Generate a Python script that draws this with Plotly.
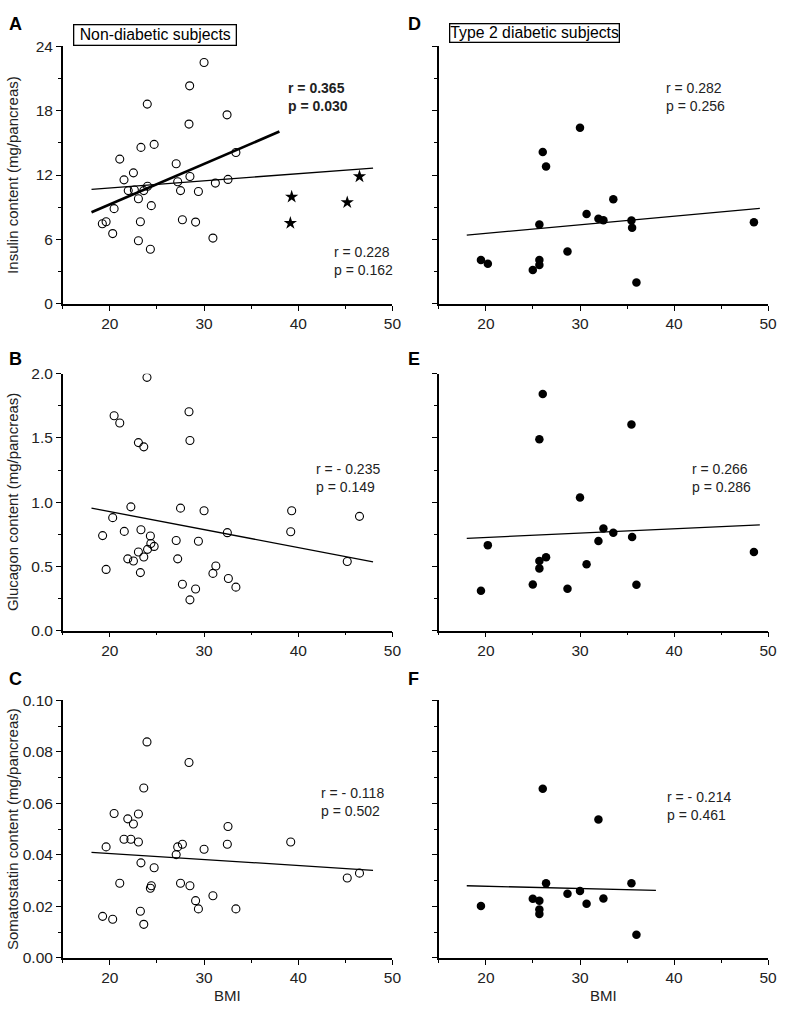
import plotly.graph_objects as go

FONT = "Liberation Sans, Arial, sans-serif"

# ---------- Non-diabetic subjects ----------
# Panel A: insulin (open circles) and obese stars
a_x = [30.0, 28.47, 23.97, 32.44, 28.4, 23.3, 24.7, 33.38, 21.05, 27.04, 22.5, 21.5, 28.5,
       32.54, 27.2, 31.2, 24.0, 21.95, 22.6, 23.6, 27.5, 29.4, 23.03, 24.4, 20.45, 19.2, 19.6,
       23.24, 27.7, 29.1, 20.3, 23.03, 30.94, 24.3]
a_y = [22.47, 20.3, 18.6, 17.6, 16.74, 14.57, 14.85, 14.1, 13.48, 13.05, 12.2, 11.55, 11.86,
       11.59, 11.37, 11.25, 10.95, 10.55, 10.6, 10.55, 10.55, 10.46, 9.79, 9.15, 8.87, 7.47, 7.65,
       7.65, 7.84, 7.62, 6.55, 5.88, 6.13, 5.09]
a_star_x = [39.3, 39.16, 45.2, 46.5]
a_star_y = [9.97, 7.53, 9.45, 11.86]
a_fit_bold_x = [18.05, 38.0]
a_fit_bold_y = [8.54, 16.04]
a_fit_x = [18.05, 47.94]
a_fit_y = [10.67, 12.65]

# Panel B: glucagon
b_x = [23.94, 20.45, 21.05, 28.4, 28.5, 23.03, 23.6, 22.23, 20.3, 27.5, 30.0, 39.3, 46.5, 39.2,
       32.47, 19.23, 21.53, 23.3, 24.3, 27.04, 29.4, 24.35, 24.7, 24.0, 23.03, 21.9, 22.5, 23.6,
       27.2, 45.2, 19.6, 23.24, 31.25, 30.94, 32.58, 27.7, 33.38, 29.1, 28.5]
b_y = [1.972, 1.673, 1.617, 1.704, 1.48, 1.464, 1.431, 0.964, 0.88, 0.954, 0.934, 0.934, 0.89,
       0.77, 0.763, 0.74, 0.773, 0.786, 0.737, 0.702, 0.696, 0.679, 0.656, 0.633, 0.612, 0.559,
       0.543, 0.574, 0.559, 0.538, 0.477, 0.452, 0.503, 0.446, 0.406, 0.362, 0.339, 0.324, 0.24]
b_fit_x = [18.05, 47.94]
b_fit_y = [0.954, 0.536]

# Panel C: somatostatin
c_x = [23.94, 28.4, 23.6, 20.45, 23.03, 21.9, 22.5, 32.54, 21.5, 22.23, 23.03, 39.2, 19.6, 27.2,
       27.7, 32.47, 30.0, 27.04, 23.3, 24.7, 46.5, 45.2, 21.05, 27.5, 28.5, 24.4, 24.3, 30.94,
       29.1, 29.4, 33.38, 23.24, 19.23, 20.3, 23.6]
c_y = [0.0839, 0.0759, 0.066, 0.0561, 0.0559, 0.054, 0.052, 0.051, 0.0461, 0.0461, 0.045, 0.045,
       0.0431, 0.0431, 0.0441, 0.0441, 0.0422, 0.0401, 0.0369, 0.035, 0.0329, 0.031, 0.029, 0.029,
       0.028, 0.028, 0.027, 0.0241, 0.0222, 0.019, 0.019, 0.0181, 0.0161, 0.015, 0.013]
c_fit_x = [18.05, 47.94]
c_fit_y = [0.041, 0.034]

# ---------- Type 2 diabetic subjects ----------
d_x = [30.0, 26.04, 26.39, 33.54, 30.7, 31.96, 32.49, 35.47, 35.54, 25.68, 48.49, 28.67, 19.47,
       20.2, 25.68, 25.68, 24.98, 36.0]
d_y = [16.4, 14.14, 12.79, 9.75, 8.37, 7.94, 7.79, 7.76, 7.09, 7.39, 7.61, 4.88, 4.08, 3.74,
       4.08, 3.62, 3.16, 1.99]
d_fit_x = [17.96, 49.12]
d_fit_y = [6.41, 8.9]

e_x = [26.04, 35.47, 25.68, 30.0, 32.49, 33.54, 35.54, 31.96, 20.2, 48.49, 26.39, 25.68, 25.68,
       30.7, 24.98, 36.0, 28.67, 19.47]
e_y = [1.842, 1.605, 1.49, 1.036, 0.796, 0.763, 0.73, 0.699, 0.666, 0.612, 0.571, 0.543, 0.485,
       0.518, 0.36, 0.357, 0.327, 0.311]
e_fit_x = [17.96, 49.12]
e_fit_y = [0.719, 0.824]

f_x = [26.04, 31.96, 26.39, 35.47, 30.0, 28.67, 24.98, 25.68, 32.49, 30.7, 19.47, 25.68, 25.68, 36.0]
f_y = [0.0657, 0.0537, 0.029, 0.029, 0.026, 0.0249, 0.0229, 0.0222, 0.023, 0.021, 0.0201, 0.0188,
       0.017, 0.009]
f_fit_x = [17.96, 38.07]
f_fit_y = [0.028, 0.0262]

stats = {
    "A": ("<b>r = 0.365<br>p = 0.030</b>", 38.65, 21.0),
    "A2": ("r = 0.228<br>p = 0.162", 43.6, 5.8),
    "B": ("r = - 0.235<br>p = 0.149", 41.7, 1.34),
    "C": ("r = - 0.118<br>p = 0.502", 42.2, 0.0678),
    "D": ("r = 0.282<br>p = 0.256", 38.9, 21.0),
    "E": ("r = 0.266<br>p = 0.286", 41.7, 1.34),
    "F": ("r = - 0.214<br>p = 0.461", 39.0, 0.0665),
}

y_titles = ["Insulin content (mg/pancreas)", "Glucagon content (mg/pancreas)",
            "Somatostatin content (mg/pancreas)"]
x_title = "BMI"
group_titles = ["Non-diabetic subjects", "Type 2 diabetic subjects"]

W, H = 787, 1012
xl = [63.5 / W, 397 / W]
xr = [444 / W, 777 / W]
yt = [1 - 300 / H, 1 - 37.7 / H]
ym = [1 - 632.3 / H, 1 - 371 / H]
yb = [1 - 965 / H, 1 - 703.3 / H]

fig = go.Figure()

open_m = dict(symbol="circle-open", size=8, color="black", line=dict(width=1.1, color="black"))
fill_m = dict(symbol="circle", size=8.5, color="black", line=dict(width=0))


def sc(x, y, ax, marker):
    fig.add_trace(go.Scatter(x=x, y=y, mode="markers", marker=marker, xaxis="x" + ax,
                             yaxis="y" + ax, showlegend=False, hoverinfo="skip"))


def ln(x, y, ax, w):
    fig.add_trace(go.Scatter(x=x, y=y, mode="lines", line=dict(color="black", width=w),
                             xaxis="x" + ax, yaxis="y" + ax, showlegend=False, hoverinfo="skip"))


# panel numbering: 1=A, 2=B, 3=C, 4=D, 5=E, 6=F
ln(a_fit_x, a_fit_y, "", 1.3)
ln(a_fit_bold_x, a_fit_bold_y, "", 2.7)
sc(a_x, a_y, "", open_m)
sc(a_star_x, a_star_y, "", dict(symbol="star", size=10, color="black", line=dict(width=0)))
ln(b_fit_x, b_fit_y, "2", 1.3)
sc(b_x, b_y, "2", open_m)
ln(c_fit_x, c_fit_y, "3", 1.3)
sc(c_x, c_y, "3", open_m)
ln(d_fit_x, d_fit_y, "4", 1.3)
sc(d_x, d_y, "4", fill_m)
ln(e_fit_x, e_fit_y, "5", 1.3)
sc(e_x, e_y, "5", fill_m)
ln(f_fit_x, f_fit_y, "6", 1.3)
sc(f_x, f_y, "6", fill_m)

tickfont = dict(family=FONT, size=15.5, color="#222")


def xax(dom, anchor):
    return dict(domain=dom, anchor=anchor, range=[15, 50], tickvals=[20, 30, 40, 50],
                ticks="outside", ticklen=5, tickwidth=1.2, tickcolor="black",
                showline=True, linecolor="black", linewidth=1.5, showgrid=False, zeroline=False,
                tickfont=tickfont,
                minor=dict(tickvals=[15, 25, 35, 45], ticks="outside", ticklen=3, tickwidth=1,
                           tickcolor="black", showgrid=False))


def yax(dom, anchor, rng, dtick, minor, fmt, labels):
    return dict(domain=dom, anchor=anchor, range=rng, dtick=dtick, tick0=0, tickformat=fmt,
                ticks="outside", ticklen=5, tickwidth=1.2, tickcolor="black",
                showline=True, linecolor="black", linewidth=1.5, showgrid=False, zeroline=False,
                showticklabels=labels, tickfont=tickfont,
                minor=dict(dtick=minor, tick0=0, ticks="outside", ticklen=3, tickwidth=1,
                           tickcolor="black", showgrid=False))


fig.update_layout(
    width=W, height=H, margin=dict(l=0, r=0, t=0, b=0),
    paper_bgcolor="white", plot_bgcolor="white",
    font=dict(family=FONT, color="#222"),
    xaxis=xax(xl, "y"),
    yaxis=yax(yt, "x", [0, 24], 6, 3, "d", True),
    xaxis2=xax(xl, "y2"),
    yaxis2=yax(ym, "x2", [0, 2], 0.5, 0.25, ".1f", True),
    xaxis3=xax(xl, "y3"),
    yaxis3=yax(yb, "x3", [0, 0.1], 0.02, 0.01, ".2f", True),
    xaxis4=xax(xr, "y4"),
    yaxis4=yax(yt, "x4", [0, 24], 6, 3, "d", False),
    xaxis5=xax(xr, "y5"),
    yaxis5=yax(ym, "x5", [0, 2], 0.5, 0.25, ".1f", False),
    xaxis6=xax(xr, "y6"),
    yaxis6=yax(yb, "x6", [0, 0.1], 0.02, 0.01, ".2f", False),
)

ann_font = dict(family=FONT, size=14, color="#222")
axmap = {"A": "", "A2": "", "B": "2", "C": "3", "D": "4", "E": "5", "F": "6"}
for k, (txt, x, y) in stats.items():
    s = axmap[k]
    fig.add_annotation(text=txt, x=x, y=y, xref="x" + s, yref="y" + s, xanchor="left",
                       yanchor="top", align="left", showarrow=False, font=ann_font)

# y-axis titles (rotated), centred on each row
for txt, dom in zip(y_titles, [yt, ym, yb]):
    fig.add_annotation(text=txt, x=12 / W, y=(dom[0] + dom[1]) / 2, xref="paper", yref="paper",
                       xanchor="center", yanchor="middle", textangle=-90, showarrow=False,
                       font=dict(family=FONT, size=15, color="#222"))

# x-axis titles
for dom in [xl, xr]:
    fig.add_annotation(text=x_title, x=(dom[0] + dom[1]) / 2, y=1 - 1003 / H, xref="paper",
                       yref="paper", xanchor="center", yanchor="middle", showarrow=False,
                       font=dict(family=FONT, size=15, color="#222"))

# panel letters
for letter, px, py in [("A", 7, 3), ("B", 7, 344), ("C", 7, 669),
                       ("D", 411, 3), ("E", 411, 344), ("F", 411, 669)]:
    fig.add_annotation(text="<b>" + letter + "</b>", x=px / W, y=1 - py / H, xref="paper",
                       yref="paper", xanchor="left", yanchor="top", showarrow=False,
                       font=dict(family=FONT, size=18, color="black"))

# group title boxes
for txt, px, py, pad in [("\u00a0" + group_titles[0] + "\u00a0", 74, 15, 1),
                         (group_titles[1], 454, 14, 0)]:
    fig.add_annotation(text=txt, x=px / W, y=1 - py / H, xref="paper", yref="paper",
                       xanchor="left", yanchor="top", showarrow=False,
                       font=dict(family=FONT, size=15.8, color="black"),
                       bordercolor="black", borderwidth=1.3, borderpad=pad, bgcolor="white")

fig.write_html("out.html", config={"displayModeBar": False},
               post_script="document.body.style.margin='0';document.body.style.padding='0';")
